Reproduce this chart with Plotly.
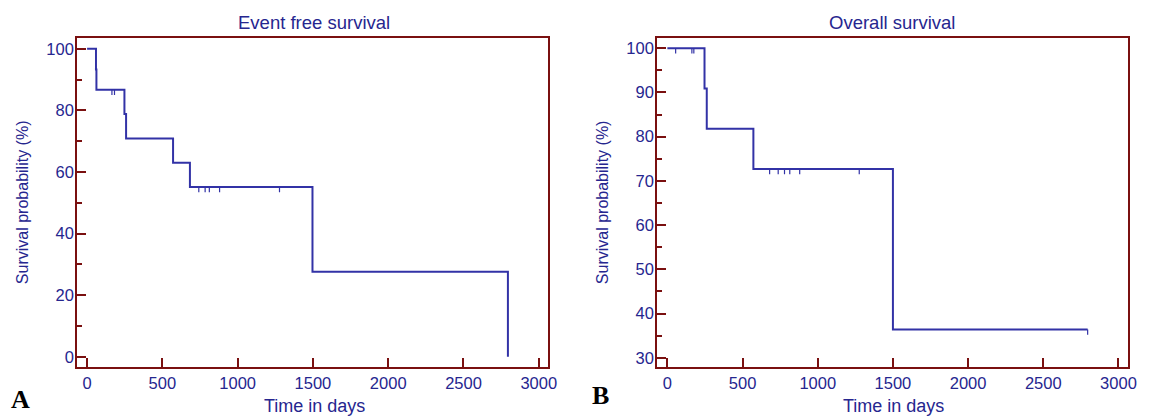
import plotly.graph_objects as go

# ---- Data ----
A_event_times = [0, 59, 62, 248, 259, 571, 683, 1497, 2795]
A_survival = [100, 93.3, 86.7, 78.8, 70.9, 63.0, 55.1, 27.6, 0]
A_censor_times = [165, 182, 742, 784, 812, 880, 1278]

B_event_times = [0, 247, 262, 572, 1500, 2795]
B_survival = [100, 90.9, 81.8, 72.7, 36.4, 36.4]
B_censor_times = [55, 163, 176, 680, 737, 779, 814, 880, 1276, 2795]

x_ticks = [0, 500, 1000, 1500, 2000, 2500, 3000]
A_y_ticks = [0, 20, 40, 60, 80, 100]
B_y_ticks = [30, 40, 50, 60, 70, 80, 90, 100]

titles = ["Event free survival", "Overall survival"]
x_title = "Time in days"
y_title = "Survival probability (%)"

# The page body has an 8px default margin: size the figure so it fits the
# 1150x418 window, and place things in window pixel coordinates.
OFF = 8
W, H = 1150 - OFF, 418 - OFF


def px(x):
    return (x - OFF) / W


def py(y):
    return 1 - (y - OFF) / H


AXIS_COLOR = "#7a1010"
TEXT_COLOR = "#26268f"
CURVE_COLOR = "#3232a6"
FONT = "Liberation Sans, Arial, sans-serif"


def level_at(t, times, surv):
    val = surv[0]
    for tt, s in zip(times, surv):
        if tt <= t:
            val = s
    return val


def censor_segments(ctimes, times, surv, drop):
    xs, ys = [], []
    for c in ctimes:
        lv = level_at(c, times, surv)
        xs += [c, c, None]
        ys += [lv, lv - drop, None]
    return xs, ys


fig = go.Figure()

# Panel A
fig.add_trace(go.Scatter(x=A_event_times, y=A_survival, mode="lines",
                         line=dict(shape="hv", color=CURVE_COLOR, width=2),
                         xaxis="x", yaxis="y", showlegend=False))
cx, cy = censor_segments(A_censor_times, A_event_times, A_survival, 1.7)
fig.add_trace(go.Scatter(x=cx, y=cy, mode="lines",
                         line=dict(color=CURVE_COLOR, width=1.2),
                         xaxis="x", yaxis="y", showlegend=False))

# Panel B
fig.add_trace(go.Scatter(x=B_event_times, y=B_survival, mode="lines",
                         line=dict(shape="hv", color=CURVE_COLOR, width=2),
                         xaxis="x2", yaxis="y2", showlegend=False))
cx, cy = censor_segments(B_censor_times, B_event_times, B_survival, 1.2)
fig.add_trace(go.Scatter(x=cx, y=cy, mode="lines",
                         line=dict(color=CURVE_COLOR, width=1.2),
                         xaxis="x2", yaxis="y2", showlegend=False))

TICK_FONT = dict(family=FONT, size=16.5, color=TEXT_COLOR)
xl = dict(showline=True, linecolor=AXIS_COLOR, linewidth=2, mirror=True,
          ticks="inside", ticklen=9, tickwidth=2, tickcolor=AXIS_COLOR,
          tickvals=x_ticks, showgrid=False, zeroline=False,
          ticklabelstandoff=0, tickfont=TICK_FONT)
yl = dict(showline=True, linecolor=AXIS_COLOR, linewidth=2, mirror=True,
          ticks="inside", ticklen=9, tickwidth=2, tickcolor=AXIS_COLOR,
          showgrid=False, zeroline=False, ticklabelstandoff=-2,
          tickfont=TICK_FONT,
          title=dict(text=y_title, font=dict(family=FONT, size=16, color=TEXT_COLOR), standoff=14))

y0, y1 = py(366.7), py(38)
TITLE_FONT = dict(family=FONT, size=18.5, color=TEXT_COLOR)
XTITLE_FONT = dict(family=FONT, size=18, color=TEXT_COLOR)
LABEL_FONT = dict(family="Liberation Serif, serif", size=26, color="black")
fig.update_layout(
    width=W, height=H, margin=dict(l=0, r=0, t=0, b=0),
    paper_bgcolor="white", plot_bgcolor="white",
    xaxis=dict(xl, domain=[px(77.7), px(552.7)], range=[-66, 3064], anchor="y"),
    yaxis=dict(yl, domain=[y0, y1], range=[-3.2, 103.5], tickvals=A_y_ticks, anchor="x",
               minor=dict(ticks="inside", ticklen=5, tickwidth=2, tickcolor=AXIS_COLOR, dtick=10, showgrid=False)),
    xaxis2=dict(xl, domain=[px(662.3), px(1136.7)], range=[-68, 3062], anchor="y2"),
    yaxis2=dict(yl, domain=[y0, y1], range=[28.0, 102.3], tickvals=B_y_ticks, anchor="x2",
                minor=dict(ticks="inside", ticklen=5, tickwidth=2, tickcolor=AXIS_COLOR, dtick=5, showgrid=False)),
    annotations=[
        dict(text=titles[0], x=px(316), y=py(22.5), xref="paper", yref="paper", showarrow=False,
             font=TITLE_FONT, xanchor="center", yanchor="middle"),
        dict(text=titles[1], x=px(899), y=py(22.5), xref="paper", yref="paper", showarrow=False,
             font=TITLE_FONT, xanchor="center", yanchor="middle"),
        dict(text=x_title, x=px(317), y=0, yshift=0, xref="paper", yref="paper", showarrow=False,
             font=XTITLE_FONT, xanchor="center", yanchor="bottom"),
        dict(text=x_title, x=px(901), y=0, yshift=0, xref="paper", yref="paper", showarrow=False,
             font=XTITLE_FONT, xanchor="center", yanchor="bottom"),
        dict(text="<b>A</b>", x=px(21), y=0, yshift=2, xref="paper", yref="paper", showarrow=False,
             font=LABEL_FONT, xanchor="center", yanchor="bottom"),
        dict(text="<b>B</b>", x=px(605), y=0, yshift=6, xref="paper", yref="paper", showarrow=False,
             font=LABEL_FONT, xanchor="center", yanchor="bottom"),
    ],
)

fig.write_html("out.html")
